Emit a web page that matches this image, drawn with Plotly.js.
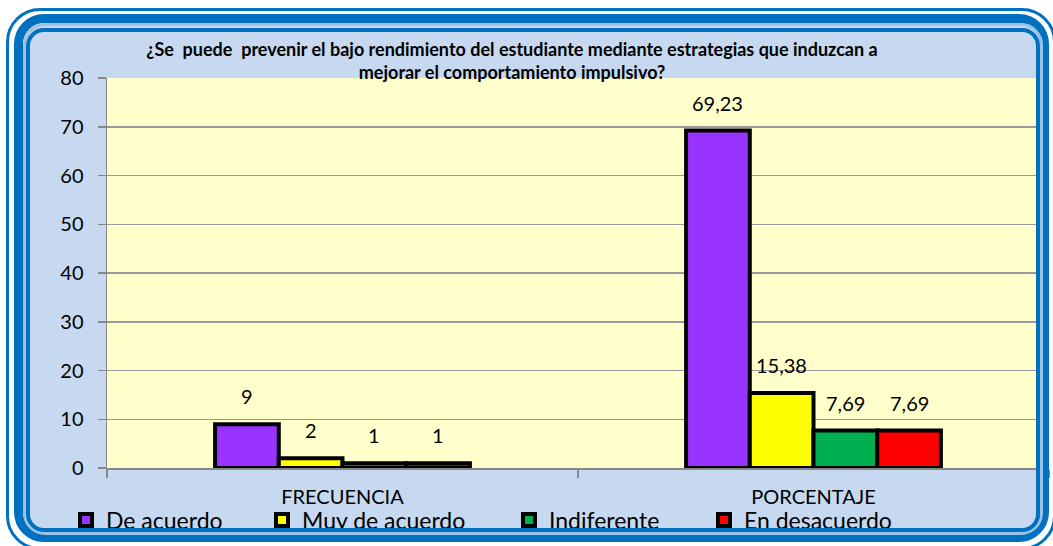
<!DOCTYPE html>
<html>
<head>
<meta charset="utf-8">
<script src="https://cdn.plot.ly/plotly-3.0.1.min.js"></script>
<style>
  html, body { margin:0; padding:0; background:#ffffff; }
  #wrap { position:relative; width:1053px; height:546px; overflow:hidden; background:#ffffff; }
  #fill { position:absolute; left:24px; top:26px; width:1018px; height:508px; background:#c6d9f1; border-radius:18px; }
  #chart { position:absolute; left:0; top:0; width:1053px; height:546px; }
  .fr { position:absolute; box-sizing:border-box; pointer-events:none; }
  #f1 { left:6px; top:8px; width:1050px; height:542px; border:3px solid #0070c0; border-radius:34px; }
  #f2 { left:14px; top:14px; width:1035px; height:528px; border:9px solid #0070c0; border-radius:30px; }
  #f3 { left:23px; top:23px; width:1020px; height:512px; border:3px solid #9cc2e5; border-radius:22px; }
  #f4 { left:26px; top:28px; width:1014px; height:504px; border:4px solid #0070c0; border-radius:18px; }
</style>
</head>
<body>
<div id="wrap">
  <div id="fill"></div>
  <div id="chart"></div>
  <div class="fr" id="f1"></div>
  <div class="fr" id="f2"></div>
  <div class="fr" id="f3"></div>
  <div class="fr" id="f4"></div>
</div>
<script>
const categories = ["FRECUENCIA", "PORCENTAJE"];
const seriesNames = ["De acuerdo", "Muy de acuerdo", "Indiferente", "En desacuerdo"];
const deAcuerdo = [9, 69.23];
const muyDeAcuerdo = [2, 15.38];
const indiferente = [1, 7.69];
const enDesacuerdo = [1, 7.69];
const seriesValues = [deAcuerdo, muyDeAcuerdo, indiferente, enDesacuerdo];
const seriesColors = ["#9933ff", "#ffff00", "#00b050", "#ff0000"];
const yTicks = [0, 10, 20, 30, 40, 50, 60, 70, 80];

const FONT = "Lato, 'Open Sans', sans-serif";
const bargap = 0.459;
const legendNames = ["legend", "legend2", "legend3", "legend4"];
const legendX = [66, 262, 509, 704]; // legend box left edges (px)

const traces = seriesValues.map((vals, i) => ({
  type: "bar",
  name: seriesNames[i],
  x: categories,
  y: vals,
  legend: legendNames[i],
  marker: { color: seriesColors[i], line: { color: "#000000", width: 4 } },
  hoverinfo: "skip"
}));

// data labels above bars, centred on each grouped bar
const nS = seriesValues.length;
const bw = (1 - bargap) / nS;
const annotations = [];
seriesValues.forEach((vals, i) => {
  vals.forEach((v, j) => {
    annotations.push({
      x: j + (i - (nS - 1) / 2) * bw,
      y: v,
      xref: "x", yref: "y",
      text: String(v).replace(".", ","),
      showarrow: false,
      yanchor: "middle",
      yshift: 28,
      font: { family: FONT, size: 20, color: "#000000" }
    });
  });
});

const layout = {
  width: 1053,
  height: 546,
  margin: { l: 107, r: 4, t: 78, b: 78 },
  paper_bgcolor: "rgba(0,0,0,0)",
  plot_bgcolor: "#ffffcc",
  separators: ",.",
  barmode: "group",
  bargap: bargap,
  bargroupgap: 0,
  showlegend: true,
  title: {
    text: "<b>¿Se  puede  prevenir el bajo rendimiento del estudiante mediante estrategias que induzcan a<br>mejorar el comportamiento impulsivo?</b>",
    font: { family: FONT, size: 18, color: "#000000" },
    x: 512 / 1053, xanchor: "center", xref: "container",
    y: 1 - 56 / 546, yanchor: "middle", yref: "container"
  },
  xaxis: {
    type: "category",
    tickson: "boundaries",
    ticks: "outside",
    ticklen: 8,
    tickcolor: "#888888",
    tickwidth: 1.5,
    showline: true,
    linecolor: "#888888",
    linewidth: 2,
    showgrid: false,
    tickfont: { family: FONT, size: 20, color: "#000000" },
    ticklabelstandoff: 10,
    fixedrange: true
  },
  yaxis: {
    range: [0, 80],
    tickvals: yTicks,
    ticks: "outside",
    ticklen: 8,
    tickcolor: "#888888",
    tickwidth: 1.5,
    showline: true,
    linecolor: "#888888",
    linewidth: 1.5,
    showgrid: true,
    gridcolor: "#999999",
    gridwidth: 1.5,
    zeroline: false,
    tickfont: { family: FONT, size: 20, color: "#000000" },
    ticklabelstandoff: 10,
    fixedrange: true
  },
  annotations: annotations
};

legendNames.forEach((ln, i) => {
  layout[ln] = {
    orientation: "h",
    xref: "container", yref: "container",
    x: legendX[i] / 1053, xanchor: "left",
    y: 1 - 520 / 546, yanchor: "middle",
    font: { family: FONT, size: 23, color: "#000000" },
    bgcolor: "rgba(0,0,0,0)",
    borderwidth: 0,
    itemclick: false, itemdoubleclick: false
  };
});

Plotly.newPlot("chart", traces, layout, { displayModeBar: false, staticPlot: true });
</script>
</body>
</html>
